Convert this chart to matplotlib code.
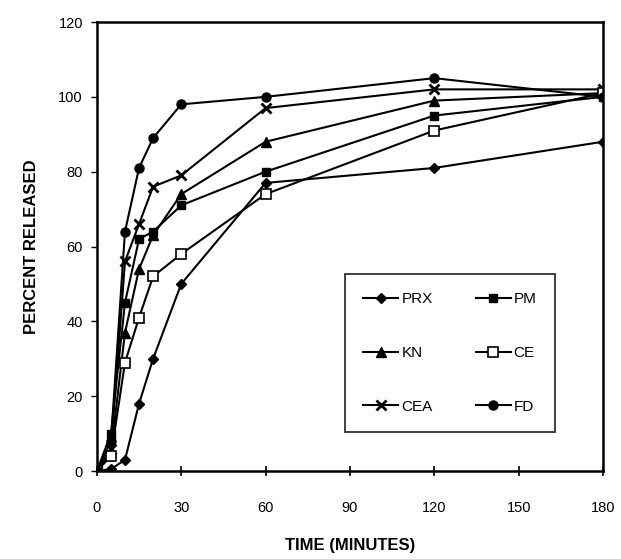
import matplotlib
matplotlib.use("Agg")
import matplotlib.pyplot as plt

plt.rcParams['font.family'] = ['Liberation Sans', 'DejaVu Sans']

# 数据
time_min = [0, 5, 10, 15, 20, 30, 60, 120, 180]
prx = [0, 0.5, 3, 18, 30, 50, 77, 81, 88]
pm = [0, 10, 45, 62, 64, 71, 80, 95, 100]
kn = [0, 5, 37, 54, 63, 74, 88, 99, 101]
ce = [0, 4, 29, 41, 52, 58, 74, 91, 101]
cea = [0, 6, 56, 66, 76, 79, 97, 102, 102]
fd = [0, 8, 64, 81, 89, 98, 100, 105, 100]

x_ticks = [0, 30, 60, 90, 120, 150, 180]
y_ticks = [0, 20, 40, 60, 80, 100, 120]

fig = plt.figure(figsize=(6.21, 5.59), dpi=100)
ax = fig.add_axes([0.156, 0.1574, 0.815, 0.8032])

lw = 1.5
ax.plot(time_min, prx, color='black', lw=lw, marker='D', ms=5.5, mfc='black', label='PRX')
ax.plot(time_min, kn, color='black', lw=lw, marker='^', ms=6.5, mfc='black', label='KN')
ax.plot(time_min, cea, color='black', lw=lw, marker='x', ms=7, mew=2.0, label='CEA')
ax.plot(time_min, pm, color='black', lw=lw, marker='s', ms=5.5, mfc='black', label='PM')
ax.plot(time_min, ce, color='black', lw=lw, marker='s', ms=7, mfc='white', mew=1.2, label='CE')
ax.plot(time_min, fd, color='black', lw=lw, marker='o', ms=6.5, mfc='black', label='FD')

ax.set_xlim(0, 180)
ax.set_ylim(0, 120)
ax.set_xticks(x_ticks)
ax.set_yticks(y_ticks)
ax.tick_params(axis='x', direction='inout', length=7, width=1.2, labelsize=10.5, pad=18)
ax.tick_params(axis='y', direction='out', length=4, width=1, labelsize=10.5, pad=6)
for sp in ax.spines.values():
    sp.set_linewidth(1.8)

ax.set_xlabel('TIME (MINUTES)', fontsize=12, fontweight='bold', labelpad=17)
ax.set_ylabel('PERCENT RELEASED', fontsize=12, fontweight='bold', labelpad=14)

leg = ax.legend(ncol=2, loc='lower left', bbox_to_anchor=(0.49, 0.087, 0.415, 0.356),
                mode='expand', fontsize=11, frameon=True, fancybox=False,
                edgecolor='black', handlelength=2.3, labelspacing=2.6,
                columnspacing=1.5, borderpad=1.2, handletextpad=0.2,
                borderaxespad=0)
leg.get_frame().set_linewidth(1.3)

plt.savefig('out.png', dpi=100)
